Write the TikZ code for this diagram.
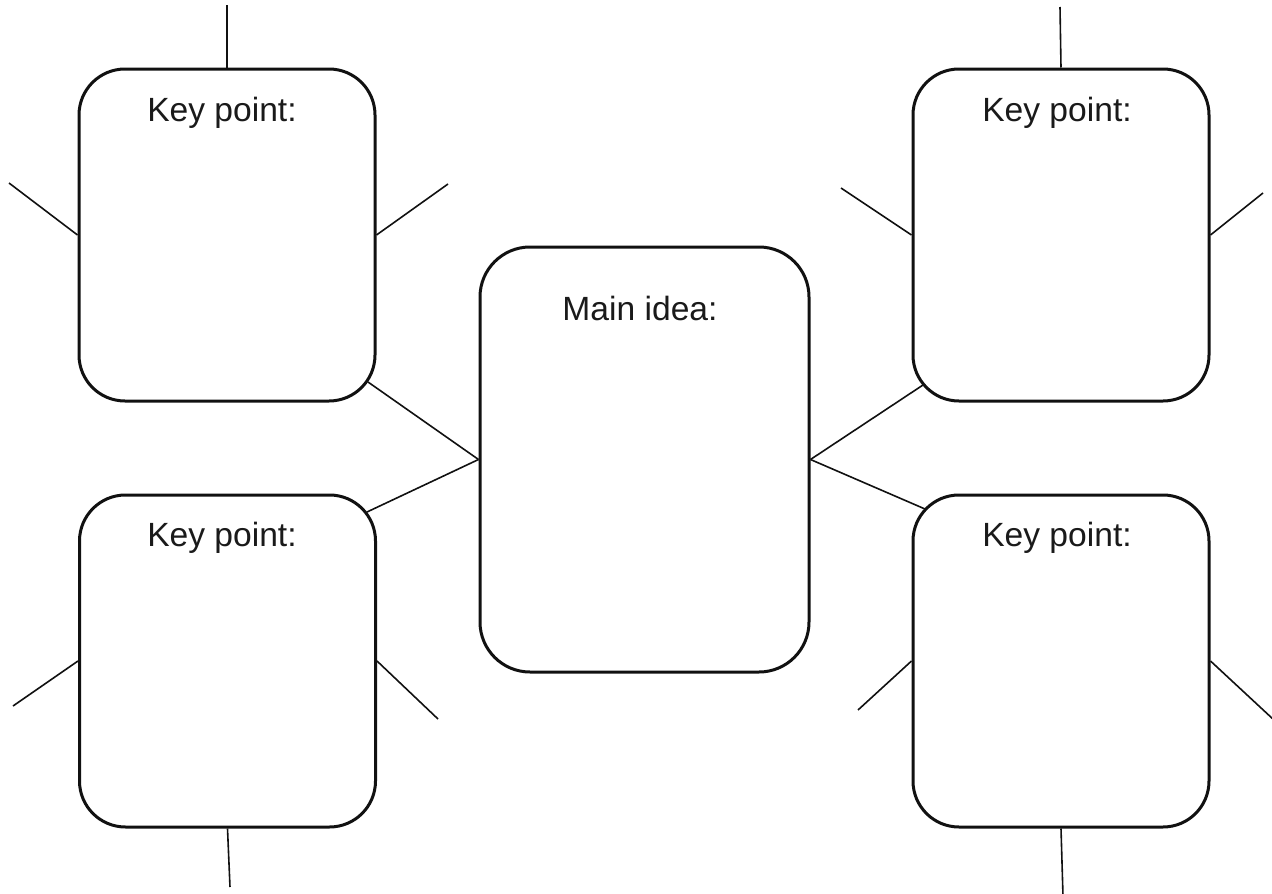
\documentclass[tikz,border=0pt]{standalone}
\usepackage{fontspec}
\setmainfont{Liberation Sans}
\usetikzlibrary{calc}
\definecolor{ink}{HTML}{111111}
\definecolor{txt}{HTML}{1A1A1A}
\tikzset{
  keybox/.style={draw=ink, line width=3pt, rounded corners=46pt, rectangle, inner sep=0pt,
    minimum width=296pt, minimum height=332pt},
  mainbox/.style={draw=ink, line width=3pt, rounded corners=50pt, rectangle, inner sep=0pt,
    minimum width=329pt, minimum height=425pt},
  lbl/.style={anchor=base, inner sep=0pt, text=txt, font=\fontsize{33.6}{40}\selectfont},
  stub/.style={draw=ink, line width=1.6pt}
}
\begin{document}
\begin{tikzpicture}[x=1pt,y=-1pt]
\useasboundingbox (0,0) rectangle (1272,894);
% boxes
\node[keybox] (tl) at (227,235) {};
\node[keybox] (bl) at (227.5,661) {};
\node[keybox] (tr) at (1061,235) {};
\node[keybox] (br) at (1061,661) {};
\node[mainbox] (c) at (644.5,459.5) {};
% labels
\node[lbl] (tlt) at (222,121) {Key point:};
\node[lbl] (blt) at (222,546) {Key point:};
\node[lbl] (trt) at (1057,121) {Key point:};
\node[lbl] (brt) at (1057,546) {Key point:};
\node[lbl] (ct) at (640,320) {Main idea:};
% corner attach points
\coordinate (tlc) at (368,382);
\coordinate (blc) at (367,512);
\coordinate (trc) at (923,385);
\coordinate (brc) at (925,509);
% free ends
\coordinate (tl1) at (227,5);
\coordinate (tl2) at (9,183);
\coordinate (tl3) at (448,184);
\coordinate (bl1) at (13,706);
\coordinate (bl2) at (438,719);
\coordinate (bl3) at (230,887);
\coordinate (tr1) at (1060,7);
\coordinate (tr2) at (841,188);
\coordinate (tr3) at (1263,193);
\coordinate (br1) at (858,710);
\coordinate (br2) at (1274,720);
\coordinate (br3) at (1063,896);
% connectors
\draw[stub] (c.west) -- (tlc);
\draw[stub] (c.west) -- (blc);
\draw[stub] (c.east) -- (trc);
\draw[stub] (c.east) -- (brc);
% stubs
\draw[stub] (tl.north) -- (tl1);
\draw[stub] (tl.west) -- (tl2);
\draw[stub] (tl.east) -- (tl3);
\draw[stub] (bl.west) -- (bl1);
\draw[stub] (bl.east) -- (bl2);
\draw[stub] (bl.south) -- (bl3);
\draw[stub] (tr.north) -- (tr1);
\draw[stub] (tr.west) -- (tr2);
\draw[stub] (tr.east) -- (tr3);
\draw[stub] (br.west) -- (br1);
\draw[stub] (br.east) -- (br2);
\draw[stub] (br.south) -- (br3);
\end{tikzpicture}
\end{document}
